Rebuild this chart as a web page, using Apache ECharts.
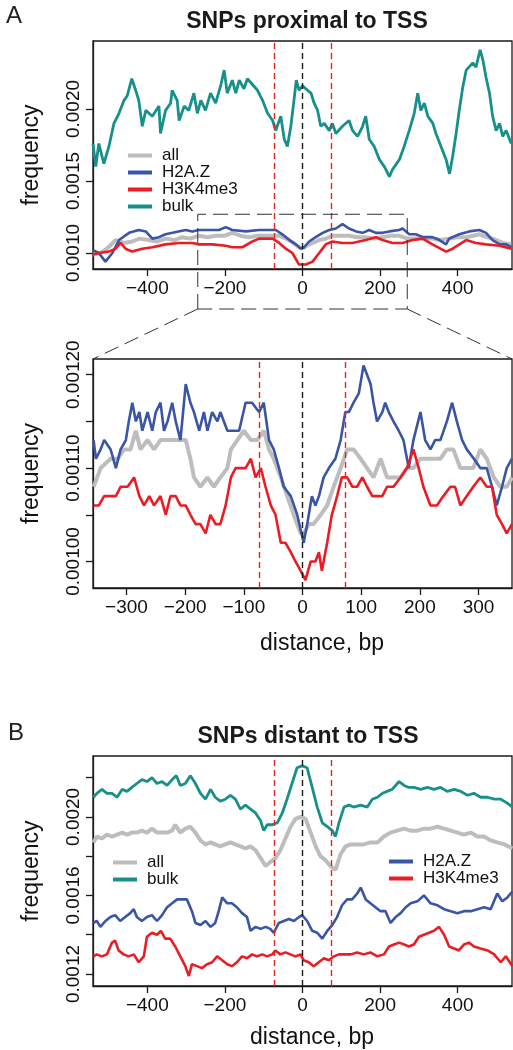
<!DOCTYPE html>
<html>
<head>
<meta charset="utf-8">
<script src="https://cdn.jsdelivr.net/npm/echarts@6/dist/echarts.min.js"></script>
<style>
html,body{margin:0;padding:0;background:#fff;}
#c{width:513px;height:1050px;}
</style>
</head>
<body>
<div id="c"></div>
<script>
// ---- values: [distance bp, frequency x 1e-5] ----
// Panel A (top): SNPs proximal to TSS, full range
const A_all = [[-540,99],[-520,100],[-500,104],[-482,109],[-460,107],[-439,108],[-420,110],[-396,109],[-375,108],[-353,110],[-330,109],[-310,111],[-290,110],[-267,112],[-245,111],[-224,112],[-200,112],[-181,114],[-160,112],[-138,111],[-115,112],[-95,112],[-80,112],[-60,112],[-34,109],[-9,104],[0,103],[17,106],[43,109],[60,110],[77,112],[100,112],[120,112],[140,111],[163,111],[185,110],[206,111],[228,112],[249,112],[270,110],[292,110],[314,110],[335,110],[355,109],[378,110],[400,111],[422,111],[440,112],[456,113],[475,111],[490,110],[516,107],[538,106]];
const A_h2az = [[-540,102],[-525,100],[-508,94],[-490,100],[-473,109],[-447,114],[-422,116],[-404,115],[-387,110],[-370,111],[-353,113],[-335,114],[-301,116],[-284,115],[-267,116],[-241,116],[-215,116],[-198,118],[-181,116],[-146,115],[-112,116],[-95,116],[-69,116],[-52,113],[-34,109],[-17,106],[-4,103],[4,104],[17,108],[34,111],[52,114],[69,116],[86,117],[103,120],[120,117],[138,115],[155,114],[172,116],[189,114],[206,114],[224,115],[249,116],[258,117],[275,113],[292,113],[310,111],[335,111],[353,109],[370,106],[378,110],[404,113],[430,115],[456,116],[473,114],[490,109],[508,106],[525,106],[538,104]];
const A_h3k4 = [[-540,99],[-525,100],[-499,101],[-482,103],[-469,107],[-456,103],[-439,101],[-413,103],[-387,104],[-353,106],[-318,107],[-284,107],[-267,106],[-232,106],[-198,105],[-181,104],[-155,104],[-129,108],[-112,110],[-95,110],[-77,110],[-60,107],[-43,103],[-26,100],[-9,92],[9,92],[26,94],[43,100],[60,106],[77,108],[103,107],[129,107],[163,109],[189,111],[206,109],[232,107],[258,107],[284,109],[310,110],[335,106],[370,101],[387,103],[422,109],[447,107],[473,106],[508,105],[538,103]];
const A_bulk = [[-540,176],[-533,160],[-525,176],[-512,162],[-499,174],[-486,190],[-473,197],[-460,206],[-452,209],[-440,221],[-430,213],[-422,206],[-413,188],[-404,199],[-387,195],[-370,202],[-366,183],[-353,199],[-340,204],[-336,213],[-323,206],[-318,192],[-305,202],[-293,199],[-280,211],[-271,197],[-262,206],[-250,199],[-237,211],[-224,204],[-211,216],[-202,227],[-194,211],[-181,220],[-172,211],[-163,220],[-151,214],[-142,221],[-129,217],[-116,213],[-103,206],[-90,197],[-77,192],[-69,185],[-56,195],[-47,179],[-39,174],[-30,188],[-22,206],[-16,220],[-9,213],[0,216],[13,213],[22,211],[30,204],[39,199],[47,188],[56,190],[69,185],[77,190],[86,183],[103,188],[120,192],[129,185],[142,181],[155,188],[163,195],[172,179],[185,174],[198,165],[211,160],[224,153],[232,158],[250,165],[262,174],[275,185],[288,197],[297,211],[305,199],[314,204],[323,195],[336,190],[344,183],[357,174],[370,165],[379,155],[387,167],[396,183],[404,199],[413,215],[422,227],[439,232],[447,229],[458,241],[465,234],[473,222],[482,211],[490,195],[499,185],[508,190],[516,181],[525,185],[538,176]];

// Panel A (zoomed)
const Az_all = [[-356,108],[-344,110],[-327,111],[-315,111],[-304,112],[-293,112],[-284,114],[-276,112],[-264,113],[-253,112],[-242,113],[-230,113],[-219,113],[-208,113],[-199,113],[-191,111],[-185,109],[-174,108],[-162,109],[-151,108],[-140,109],[-128,110],[-122,112],[-111,113],[-100,114],[-88,113],[-77,113],[-66,114],[-57,112],[-49,111],[-37,109],[-26,107],[-15,105],[-3,103],[2,103],[11,104],[19,104],[31,105],[42,106],[53,108],[65,110],[76,112],[87,112],[99,111],[110,110],[121,109],[133,111],[144,109],[155,109],[167,109],[178,110],[189,110],[201,111],[212,111],[223,111],[235,111],[246,112],[257,112],[269,110],[280,110],[291,110],[303,112],[314,111],[326,109],[337,108],[348,108],[357,109]];
const Az_h2az = [[-356,113],[-352,111],[-344,112],[-338,113],[-327,112],[-318,110],[-310,112],[-301,113],[-296,115],[-290,117],[-284,115],[-278,116],[-273,114],[-264,116],[-256,114],[-250,116],[-242,117],[-236,114],[-230,115],[-222,117],[-216,115],[-208,113],[-199,119],[-191,117],[-185,116],[-176,114],[-168,116],[-162,114],[-154,116],[-145,115],[-140,116],[-128,114],[-117,114],[-108,114],[-97,117],[-86,117],[-74,116],[-66,117],[-57,113],[-49,112],[-40,110],[-32,108],[-20,107],[-9,105],[2,102],[8,104],[16,107],[22,106],[28,107],[36,109],[45,110],[56,111],[65,113],[73,116],[79,116],[87,117],[96,118],[104,121],[110,120],[116,119],[121,117],[127,115],[136,116],[141,117],[147,116],[155,115],[164,114],[172,113],[181,110],[189,113],[201,116],[209,113],[218,112],[226,113],[235,113],[246,115],[255,117],[263,115],[272,113],[280,112],[292,111],[303,110],[314,110],[323,108],[331,106],[340,108],[348,110],[357,111]];
const Az_h3k4 = [[-356,106],[-347,106],[-338,107],[-327,107],[-318,107],[-310,108],[-298,108],[-287,109],[-278,107],[-270,106],[-261,107],[-253,106],[-242,107],[-233,105],[-225,107],[-216,107],[-208,106],[-199,106],[-191,105],[-182,104],[-174,104],[-165,103],[-157,105],[-148,104],[-140,104],[-131,106],[-122,109],[-114,110],[-105,110],[-97,110],[-88,111],[-80,109],[-71,110],[-63,108],[-54,106],[-46,105],[-37,102],[-29,102],[-20,101],[-12,100],[-3,99],[5,98],[14,100],[22,100],[28,101],[33,99],[42,102],[50,105],[59,107],[67,109],[76,109],[85,108],[93,108],[102,109],[110,108],[119,107],[127,107],[136,107],[144,108],[155,108],[167,109],[178,110],[189,112],[198,110],[206,108],[218,106],[229,106],[240,107],[252,108],[260,108],[269,106],[280,107],[291,108],[303,109],[314,108],[323,108],[331,105],[340,104],[348,103],[357,104]];

// Panel B: SNPs distant to TSS
const B_all = [[-539,187],[-530,190],[-517,189],[-504,191],[-491,190],[-478,191],[-465,192],[-452,191],[-440,192],[-427,192],[-414,193],[-401,192],[-388,194],[-375,192],[-362,192],[-349,192],[-336,193],[-328,196],[-315,192],[-302,194],[-289,195],[-276,192],[-263,188],[-250,186],[-237,187],[-225,186],[-212,185],[-199,186],[-186,187],[-173,186],[-160,185],[-147,184],[-134,185],[-121,183],[-108,179],[-95,175],[-83,177],[-70,179],[-57,183],[-44,189],[-31,195],[-18,199],[-5,200],[8,199],[21,192],[34,185],[46,180],[59,178],[72,175],[85,173],[98,181],[111,185],[124,186],[141,186],[158,186],[175,187],[193,187],[210,190],[227,192],[244,193],[262,194],[279,193],[296,193],[313,194],[330,194],[348,195],[365,194],[382,193],[399,192],[416,191],[434,192],[451,190],[468,190],[485,188],[502,187],[520,186],[541,184]];
const B_bulk = [[-539,210],[-530,212],[-517,214],[-504,212],[-491,212],[-478,210],[-465,214],[-452,213],[-440,215],[-427,217],[-414,219],[-401,218],[-388,220],[-375,217],[-362,218],[-349,216],[-336,219],[-325,221],[-315,216],[-302,217],[-289,221],[-276,217],[-263,212],[-250,209],[-237,214],[-225,210],[-212,208],[-199,209],[-186,211],[-173,209],[-160,204],[-147,206],[-134,204],[-121,202],[-108,198],[-100,193],[-91,196],[-78,196],[-65,197],[-52,202],[-40,209],[-27,217],[-14,225],[-1,226],[12,225],[25,215],[38,205],[51,197],[64,195],[77,193],[85,190],[94,197],[107,205],[120,206],[132,205],[150,206],[167,205],[180,209],[193,210],[206,212],[218,213],[231,214],[249,218],[262,216],[274,215],[287,215],[305,214],[322,215],[339,214],[356,215],[373,213],[391,214],[408,213],[425,211],[442,212],[459,210],[477,210],[494,209],[511,209],[528,207],[541,205]];
const B_h2az = [[-539,146],[-530,147],[-521,144],[-508,147],[-495,149],[-483,150],[-470,147],[-457,149],[-444,151],[-435,153],[-427,149],[-414,147],[-401,149],[-388,150],[-375,147],[-362,150],[-349,154],[-336,156],[-323,158],[-311,158],[-298,158],[-285,152],[-276,146],[-263,145],[-250,147],[-237,144],[-225,146],[-216,152],[-207,159],[-194,156],[-182,156],[-169,154],[-156,151],[-143,149],[-134,142],[-121,144],[-108,143],[-95,144],[-83,143],[-74,141],[-61,146],[-48,147],[-35,148],[-22,147],[-9,149],[-1,150],[12,147],[25,142],[38,141],[51,138],[64,142],[77,145],[89,149],[102,155],[115,158],[128,158],[141,161],[150,164],[163,158],[175,156],[188,154],[201,152],[214,152],[227,146],[240,149],[253,151],[266,154],[279,156],[296,157],[313,160],[330,156],[348,155],[365,153],[382,152],[399,151],[416,152],[434,152],[451,153],[468,154],[485,153],[502,161],[515,157],[528,159],[541,162]];
const B_h3k4 = [[-539,129],[-530,130],[-517,129],[-504,130],[-491,136],[-483,137],[-474,132],[-461,130],[-448,129],[-435,130],[-422,126],[-409,129],[-401,139],[-388,141],[-375,140],[-365,142],[-354,138],[-341,138],[-328,134],[-315,129],[-302,124],[-293,119],[-285,125],[-272,124],[-259,123],[-246,125],[-233,126],[-220,129],[-207,127],[-194,125],[-182,124],[-169,126],[-156,129],[-143,128],[-130,130],[-117,129],[-104,130],[-91,129],[-78,130],[-70,132],[-57,130],[-44,131],[-31,130],[-18,129],[-5,130],[3,127],[16,126],[29,124],[42,126],[55,128],[68,127],[81,129],[94,130],[107,130],[124,130],[141,131],[158,130],[175,131],[193,129],[210,130],[223,134],[236,135],[249,136],[262,135],[274,134],[287,135],[300,139],[313,140],[326,141],[339,142],[352,144],[365,140],[378,134],[391,133],[403,132],[416,135],[429,136],[442,134],[459,133],[477,132],[494,130],[511,126],[524,129],[541,124]];

// ---- axes ----
const xRangeA = [-540, 540], yRangeA = [88.9, 247.2];
const xRangeAz = [-357, 357], yRangeAz = [97.16, 121.68];
const xRangeB = [-540, 540], yRangeB = [113.9, 231.0];
const xTicksA = [-400, -200, 0, 200, 400];
const xTicksAz = [-300, -200, -100, 0, 100, 200, 300];
const xTicksB = [-400, -200, 0, 200, 400];
const yTicksA = [100, 150, 200], yLabelsA = [100, 150, 200];
const yTicksAz = [100, 105, 110, 115, 120], yLabelsAz = [100, 110, 120];
const yTicksB = [120, 140, 160, 180, 200, 220], yLabelsB = [120, 160, 200];
const tssLines = [-73, 0, 73];
const zoomWindowX = [-270, 270], zoomWindowTop = 126.9;

const C = {all:'#bdbdbd', h2az:'#3a55a5', h3k4:'#ec1c24', bulk:'#17908b'};
const FONT = 'Liberation Sans, Arial, Helvetica, sans-serif';
const INK = '#1a1a1a';

function minus(v){ return v < 0 ? '\u2212' + Math.abs(v) : String(v); }

function xAxis(gi, range, ticks, name){
  return {
    gridIndex: gi, type: 'value', min: range[0], max: range[1],
    axisLine: {show: true, onZero: false, lineStyle: {color: INK, width: 1.3}},
    axisTick: {show: true, inside: false, length: 7, customValues: ticks, lineStyle: {color: INK, width: 1.3}},
    axisLabel: {show: true, customValues: ticks, formatter: minus, fontSize: 19, color: '#111', fontFamily: FONT, margin: 10},
    splitLine: {show: false}
  };
}
function yAxis(gi, range, ticks, labels, dec){
  return {
    gridIndex: gi, type: 'value', min: range[0], max: range[1],
    name: 'frequency', nameLocation: 'middle', nameGap: 50,
    nameTextStyle: {fontSize: 23, color: '#111', fontFamily: FONT},
    axisLine: {show: true, onZero: false, lineStyle: {color: INK, width: 1.3}},
    axisTick: {show: true, inside: false, length: 7, customValues: ticks, lineStyle: {color: INK, width: 1.3}},
    axisLabel: {show: true, customValues: labels, rotate: 90, formatter: v => (v / 1e5).toFixed(dec), fontSize: 19, color: '#111', fontFamily: FONT, margin: 10},
    splitLine: {show: false}
  };
}
function line(name, data, gi, color, w){
  return {
    name: name, type: 'line', xAxisIndex: gi, yAxisIndex: gi, data: data,
    showSymbol: false, symbol: 'none', animation: false, silent: true,
    lineStyle: {color: color, width: w}, itemStyle: {color: color}
  };
}
function refLines(gi){
  return {
    type: 'line', xAxisIndex: gi, yAxisIndex: gi, data: [], silent: true, animation: false, z: 5,
    markLine: {
      silent: true, symbol: ['none', 'none'], label: {show: false}, animation: false,
      data: tssLines.map(v => ({xAxis: v, lineStyle: {color: v === 0 ? INK : '#e8231f', type: [6, 4], width: 1.4}}))
    }
  };
}

const legIcon = 'path://M0,0H24V4H0Z M34,0L34,4';
const legendBase = {
  orient: 'vertical', icon: legIcon, itemWidth: 34, itemHeight: 4, itemGap: 0,
  selectedMode: false, padding: 0,
  textStyle: {fontSize: 17, lineHeight: 17, color: '#111', fontFamily: FONT, padding: [0, 0, 0, -5]}
};

const chart = echarts.init(document.getElementById('c'), null, {renderer: 'canvas'});
chart.setOption({
  backgroundColor: '#fff',
  animation: false,
  textStyle: {fontFamily: FONT},
  title: [
    {text: 'A', left: 1, top: -1, textStyle: {fontSize: 24, fontWeight: 'normal', color: '#222', fontFamily: FONT}},
    {text: 'SNPs proximal to TSS', left: 302, textAlign: 'center', top: 5, textStyle: {fontSize: 23, fontWeight: 'bold', color: '#1a1a1a', fontFamily: FONT}},
    {text: 'distance, bp', left: 317, textAlign: 'center', top: 627, textStyle: {fontSize: 23, fontWeight: 'normal', color: '#111', fontFamily: FONT}},
    {text: 'B', left: 3, top: 716, textStyle: {fontSize: 24, fontWeight: 'normal', color: '#222', fontFamily: FONT}},
    {text: 'SNPs distant to TSS', left: 303, textAlign: 'center', top: 720, textStyle: {fontSize: 23, fontWeight: 'bold', color: '#1a1a1a', fontFamily: FONT}},
    {text: 'distance, bp', left: 307, textAlign: 'center', top: 1021, textStyle: {fontSize: 23, fontWeight: 'normal', color: '#111', fontFamily: FONT}}
  ],
  legend: [
    Object.assign({}, legendBase, {data: ['all', 'H2A.Z', 'H3K4me3', 'bulk'], left: 128, top: 147}),
    Object.assign({}, legendBase, {data: ['all', 'bulk'], left: 113, top: 854}),
    Object.assign({}, legendBase, {data: ['H2A.Z', 'H3K4me3'], left: 389, top: 853})
  ],
  grid: [
    {left: 93, top: 41, width: 419, height: 228, show: true, borderColor: INK, borderWidth: 1.3, backgroundColor: 'transparent', containLabel: false},
    {left: 93, top: 359, width: 419, height: 229, show: true, borderColor: INK, borderWidth: 1.3, backgroundColor: 'transparent', containLabel: false},
    {left: 93, top: 756, width: 419, height: 230, show: true, borderColor: INK, borderWidth: 1.3, backgroundColor: 'transparent', containLabel: false}
  ],
  xAxis: [xAxis(0, xRangeA, xTicksA), xAxis(1, xRangeAz, xTicksAz), xAxis(2, xRangeB, xTicksB)],
  yAxis: [yAxis(0, yRangeA, yTicksA, yLabelsA, 4), yAxis(1, yRangeAz, yTicksAz, yLabelsAz, 5), yAxis(2, yRangeB, yTicksB, yLabelsB, 4)],
  series: [
    line('all', A_all, 0, C.all, 4),
    line('H2A.Z', A_h2az, 0, C.h2az, 2.6),
    line('H3K4me3', A_h3k4, 0, C.h3k4, 2.6),
    line('bulk', A_bulk, 0, C.bulk, 2.8),
    refLines(0),
    line('all', Az_all, 1, C.all, 4),
    line('H2A.Z', Az_h2az, 1, C.h2az, 2.6),
    line('H3K4me3', Az_h3k4, 1, C.h3k4, 2.6),
    refLines(1),
    line('all', B_all, 2, C.all, 4),
    line('bulk', B_bulk, 2, C.bulk, 2.8),
    line('H2A.Z', B_h2az, 2, C.h2az, 2.6),
    line('H3K4me3', B_h3k4, 2, C.h3k4, 2.6),
    refLines(2)
  ]
});

// zoom-window annotation, positioned through the axes' own scales
const zl = chart.convertToPixel({gridIndex: 0}, [zoomWindowX[0], zoomWindowTop]);
const zr = chart.convertToPixel({gridIndex: 0}, [zoomWindowX[1], zoomWindowTop]);
const gBottom = chart.convertToPixel({gridIndex: 0}, [0, yRangeA[0]])[1];
const yH = gBottom + 40;
const cL = chart.convertToPixel({gridIndex: 1}, [xRangeAz[0], yRangeAz[1]]);
const cR = chart.convertToPixel({gridIndex: 1}, [xRangeAz[1], yRangeAz[1]]);
const dashStyle = {stroke: '#333', lineWidth: 1, lineDash: [15, 7], fill: null};
chart.setOption({
  graphic: [
    {type: 'polyline', silent: true, z: 10, shape: {points: [[zl[0], yH], [zl[0], zl[1]], [zr[0], zr[1]], [zr[0], yH], [zl[0], yH]]}, style: dashStyle},
    {type: 'polyline', silent: true, z: 10, shape: {points: [[zl[0], yH], [cL[0], cL[1]]]}, style: dashStyle},
    {type: 'polyline', silent: true, z: 10, shape: {points: [[zr[0], yH], [cR[0], cR[1]]]}, style: dashStyle}
  ]
});
</script>
</body>
</html>
